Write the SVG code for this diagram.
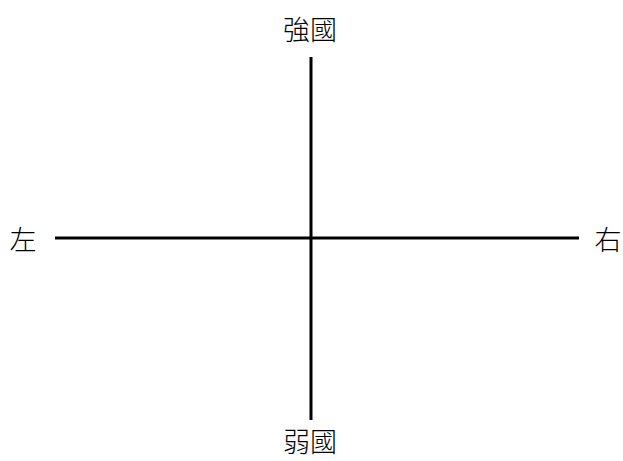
<svg xmlns="http://www.w3.org/2000/svg" width="623" height="461" viewBox="0 0 623 461">
<style>
.t{font-family:"Noto Sans CJK TC","Noto Sans CJK JP",sans-serif;font-size:27px;font-weight:300;fill:#000}
.ax{stroke:#000;stroke-width:3;fill:none}
</style>
<rect width="623" height="461" fill="#fff"/>
<g id="connectors">
<line class="ax" x1="311" y1="57" x2="311" y2="420"/>
<line class="ax" x1="55" y1="238" x2="579" y2="238"/>
</g>
<g id="strong"><text class="t" x="310" y="40" text-anchor="middle">強國</text></g>
<g id="weak"><text class="t" x="310" y="452" text-anchor="middle">弱國</text></g>
<g id="left"><text class="t" x="23" y="250" text-anchor="middle">左</text></g>
<g id="right"><text class="t" x="608" y="250" text-anchor="middle">右</text></g>
</svg>
